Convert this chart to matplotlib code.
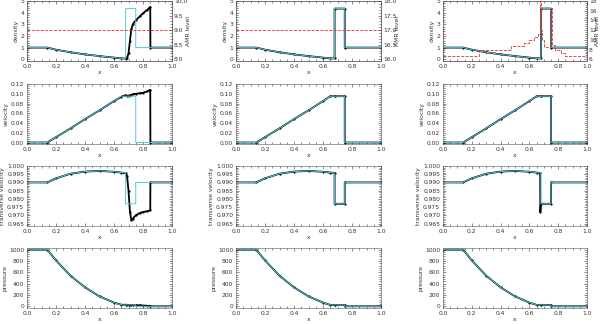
import matplotlib
matplotlib.use('Agg')
import matplotlib.pyplot as plt
from matplotlib.ticker import AutoMinorLocator, MultipleLocator

# exact solution (cyan), shared by the three columns
x_ex = [0.0, 0.14, 0.2, 0.3, 0.4, 0.5, 0.6, 0.65, 0.68, 0.68, 0.75, 0.75, 1.0]
rho_ex = [1.0, 1.0, 0.82, 0.6, 0.42, 0.27, 0.14, 0.07, 0.07, 4.35, 4.35, 1.0, 1.0]
vel_ex = [0.0, 0.0, 0.011, 0.029, 0.048, 0.066, 0.085, 0.095, 0.095, 0.095, 0.095, 0.0, 0.0]
vt_ex = [0.990, 0.990, 0.9925, 0.9953, 0.9966, 0.997, 0.9965, 0.996, 0.9958, 0.977, 0.977, 0.990, 0.990]
p_ex = [1000, 1000, 810, 540, 335, 175, 65, 25, 25, 25, 25, 0, 0]

# numerical solution, column 1 (low resolution)
x_n1 = [0.0, 0.14, 0.2, 0.3, 0.4, 0.5, 0.6, 0.65, 0.68, 0.69, 0.70, 0.71, 0.72, 0.73,
        0.75, 0.78, 0.80, 0.83, 0.85, 0.851, 1.0]
rho_n1 = [1.0, 1.0, 0.82, 0.6, 0.42, 0.27, 0.14, 0.07, 0.06, 0.1, 0.5, 1.6, 2.6, 3.0,
          3.35, 3.7, 3.95, 4.25, 4.5, 1.0, 1.0]
vel_n1 = [0.0, 0.0, 0.011, 0.029, 0.048, 0.066, 0.085, 0.094, 0.097, 0.095, 0.096, 0.097, 0.098, 0.099,
          0.100, 0.101, 0.102, 0.105, 0.108, 0.0, 0.0]
vt_n1 = [0.990, 0.990, 0.9925, 0.9953, 0.9966, 0.997, 0.9965, 0.996, 0.9955, 0.994, 0.985, 0.972, 0.967, 0.968,
         0.970, 0.9715, 0.972, 0.9725, 0.973, 0.990, 0.990]
p_n1 = [1000, 1000, 810, 540, 335, 175, 65, 28, 27, 26, 25, 24, 23, 22,
        20, 17, 14, 10, 5, 0, 0]

# numerical transverse velocity, column 3 (overshoot at the contact)
x_vt3 = [0.0, 0.14, 0.2, 0.3, 0.4, 0.5, 0.6, 0.65, 0.675, 0.676, 0.68, 0.75, 0.751, 1.0]
vt_n3 = [0.990, 0.990, 0.9925, 0.9953, 0.9966, 0.997, 0.9965, 0.996, 0.9958, 0.972, 0.977, 0.977, 0.990, 0.990]

# AMR level (red dashed)
amr_const = [9.0, 17.0]
amr_lims = [(8.0, 10.0), (16.0, 18.0), (6.0, 18.0)]
amr_ticks = [[8.0, 8.5, 9.0, 9.5, 10.0], [16.0, 16.5, 17.0, 17.5, 18.0], [6, 8, 10, 12, 14, 16, 18]]
x_amr3 = [0.0, 0.25, 0.47, 0.56, 0.60, 0.63, 0.66, 0.672, 0.68, 0.69, 0.70, 0.74, 0.745,
          0.755, 0.76, 0.78, 0.82, 0.85, 1.0]
amr3 = [6.7, 7.9, 8.8, 9.4, 10.0, 10.6, 11.2, 18.0, 12.0, 10.0, 8.6, 9.8, 16.6,
        10.3, 9.0, 7.9, 7.3, 6.7, 6.7]

ylabels = ['density', 'velocity', 'transverse velocity', 'pressure']
ylims = [(-0.15, 5.0), (-0.003, 0.12), (0.9635, 1.0), (-30, 1030)]
ysteps = [1, 0.02, 0.005, 200]
yfmt = ['%d', '%.2f', '%.3f', '%d']

cyan = '#55c8d8'
txt = '#333333'
fs = 4.3

W, H = 600, 324
lefts = [27, 236, 443]
tops = [1, 84, 166, 248]
aw, ah = 145, 60
amr_label_x = [1.115, 1.115, 1.075]

fig = plt.figure(figsize=(6, 3.24), dpi=100)

for c in range(3):
    if c == 0:
        num = [(x_n1, rho_n1), (x_n1, vel_n1), (x_n1, vt_n1), (x_n1, p_n1)]
    elif c == 1:
        num = [(x_ex, rho_ex), (x_ex, vel_ex), (x_ex, vt_ex), (x_ex, p_ex)]
    else:
        num = [(x_ex, rho_ex), (x_ex, vel_ex), (x_vt3, vt_n3), (x_ex, p_ex)]
    exact = [rho_ex, vel_ex, vt_ex, p_ex]
    for r in range(4):
        ax = fig.add_axes([lefts[c]/W, (H - tops[r] - ah)/H, (aw - (c == 2))/W, ah/H])
        ax.plot(num[r][0], num[r][1], color='k', lw=1.3, marker='.', ms=1.2, zorder=2)
        ax.plot(x_ex, exact[r], color=cyan, lw=0.7, zorder=3)
        ax.set_xlim(0, 1)
        ax.set_ylim(*ylims[r])
        ax.xaxis.set_major_locator(MultipleLocator(0.2))
        ax.yaxis.set_major_locator(MultipleLocator(ysteps[r]))
        ax.xaxis.set_major_formatter(plt.FormatStrFormatter('%.1f'))
        ax.yaxis.set_major_formatter(plt.FormatStrFormatter(yfmt[r]))
        ax.xaxis.set_minor_locator(AutoMinorLocator(4))
        ax.yaxis.set_minor_locator(AutoMinorLocator(5))
        ax.tick_params(which='both', direction='in', top=True, right=(r != 0),
                       labelsize=fs, colors=txt, width=0.4, pad=2)
        ax.tick_params(which='major', length=2.5)
        ax.tick_params(which='minor', length=1.3)
        for s in ax.spines.values():
            s.set_linewidth(0.4)
            s.set_color('#555555')
        ax.set_xlabel('x', fontsize=fs, color=txt, labelpad=1)
        ax.set_ylabel(ylabels[r], fontsize=fs, color=txt, labelpad=1.5)

        if r == 0:
            ax2 = ax.twinx()
            lo, hi = amr_lims[c]
            ax2.set_ylim(lo - (hi - lo) * 0.15 / 5.15, hi)
            if c < 2:
                ax2.plot([0, 1], [amr_const[c], amr_const[c]], color='#e03030', ls='--', lw=0.6)
                ax2.yaxis.set_major_formatter(plt.FormatStrFormatter('%.1f'))
            else:
                ax2.plot(x_amr3, amr3, color='#e03030', ls='--', lw=0.6, drawstyle='steps-post')
                ax2.yaxis.set_major_formatter(plt.FormatStrFormatter('%d'))
            ax2.set_yticks(amr_ticks[c])
            ax2.yaxis.set_minor_locator(AutoMinorLocator(5))
            ax2.tick_params(which='both', direction='in', labelsize=fs, colors=txt, width=0.4, pad=1.5)
            ax2.tick_params(which='major', length=2.5)
            ax2.tick_params(which='minor', length=1.3)
            ax2.set_ylabel('AMR level', fontsize=fs, color=txt, rotation=90, va='center')
            ax2.yaxis.set_label_coords(amr_label_x[c], 0.5)
            for s in ax2.spines.values():
                s.set_linewidth(0.4)
                s.set_color('#555555')

fig.savefig('out.png', dpi=100)
